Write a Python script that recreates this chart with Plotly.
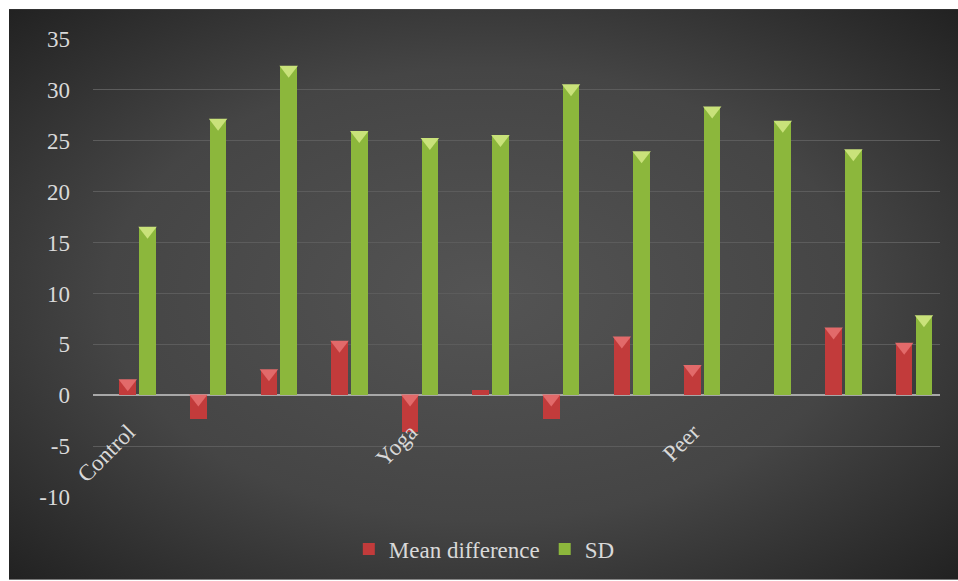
import base64
import plotly.graph_objects as go

# ---- data ----
labels = ["Control", "", "", "", "Yoga", "", "", "", "Peer", "", "", ""]
mean_difference = [1.5, -2.3, 2.5, 5.3, -3.6, 0.5, -2.3, 5.7, 2.9, 0.0, 6.6, 5.1]
sd = [16.5, 27.1, 32.3, 25.9, 25.2, 25.5, 30.5, 23.9, 28.3, 26.9, 24.1, 7.8]
y_ticks = [-10, -5, 0, 5, 10, 15, 20, 25, 30, 35]
y_tick_text = ["-10", "-5", "0", "5", "10", "15", "20", "25", "30", "35"]

x = list(range(len(labels)))
tickvals = [i for i, l in enumerate(labels) if l]
ticktext = [l for l in labels if l]

W, H = 958, 581
L, R, T, B = 93, 18, 39, 83
pw, ph = W - L - R, H - T - B

font_family = "Times New Roman, Liberation Serif, Tinos, DejaVu Serif, serif"
txt_color = "#d9d9d9"

BAR_W = 0.235
OFF_RED, OFF_GREEN = -0.125, 0.155

svg = """<svg xmlns='http://www.w3.org/2000/svg' width='949' height='572' viewBox='0 0 949 572' preserveAspectRatio='none'>
<defs><radialGradient id='g' cx='50%' cy='50%' r='72%'>
<stop offset='0%' stop-color='#545454'/>
<stop offset='55%' stop-color='#454545'/>
<stop offset='100%' stop-color='#202020'/>
</radialGradient></defs>
<rect width='949' height='572' fill='url(#g)'/></svg>"""
src = "data:image/svg+xml;base64," + base64.b64encode(svg.encode()).decode()

fig = go.Figure()
fig.add_trace(go.Bar(
    x=x, y=mean_difference, name="Mean difference",
    width=BAR_W, offset=OFF_RED,
    marker=dict(color="#c23b3b", line=dict(color="#8e2424", width=0)),
))
fig.add_trace(go.Bar(
    x=x, y=sd, name="SD",
    width=BAR_W, offset=OFF_GREEN,
    marker=dict(color="#8cb73c", line=dict(color="#5d7d22", width=0)),
))

# bevel highlight triangles at the top of each bar
dy = 0.33
fig.add_trace(go.Scatter(
    x=[i + OFF_RED + BAR_W / 2 for i, v in zip(x, mean_difference) if abs(v) >= 1],
    y=[max(v, 0) - dy for v in mean_difference if abs(v) >= 1],
    mode="markers", showlegend=False, hoverinfo="skip",
    marker=dict(symbol="triangle-down", size=16, color="#e26a6a", line=dict(width=0)),
))
fig.add_trace(go.Scatter(
    x=[i + OFF_GREEN + BAR_W / 2 for i, v in zip(x, sd) if abs(v) >= 1],
    y=[max(v, 0) - dy for v in sd if abs(v) >= 1],
    mode="markers", showlegend=False, hoverinfo="skip",
    marker=dict(symbol="triangle-down", size=16, color="#c9e27a", line=dict(width=0)),
))

fig.update_layout(
    width=W, height=H,
    margin=dict(l=L, r=R, t=T, b=B),
    paper_bgcolor="white",
    plot_bgcolor="rgba(0,0,0,0)",
    font=dict(family=font_family, size=23, color=txt_color),
    showlegend=True,
    legend=dict(orientation="h", x=0.462, xanchor="center", y=-0.111, yanchor="middle",
                font=dict(size=23, color=txt_color, family=font_family),
                bgcolor="rgba(0,0,0,0)", itemwidth=30, traceorder="normal"),
    bargap=0,
    images=[dict(source=src, xref="paper", yref="paper",
                 x=(9 - L) / pw, y=1 + (T - 9) / ph,
                 sizex=(W - 9) / pw, sizey=(H - 9) / ph,
                 xanchor="left", yanchor="top", sizing="stretch", layer="below")],
)
fig.update_xaxes(
    range=[-0.5, len(labels) - 0.5],
    tickmode="array", tickvals=tickvals, ticktext=ticktext,
    tickangle=-45, showgrid=False, showline=False, zeroline=False, ticks="",
    anchor="free", position=0.183,
    tickfont=dict(size=23, color=txt_color, family=font_family),
)
fig.update_yaxes(
    range=[-10, 35], tickmode="array", tickvals=y_ticks, ticktext=y_tick_text,
    showgrid=True, gridcolor="#5c5c5c", gridwidth=1,
    zeroline=True, zerolinecolor="#a8a8a8", zerolinewidth=2,
    showline=False, ticks="", ticklabelstandoff=22,
    tickfont=dict(size=23, color=txt_color, family=font_family),
)

fig.write_html("out.html")
